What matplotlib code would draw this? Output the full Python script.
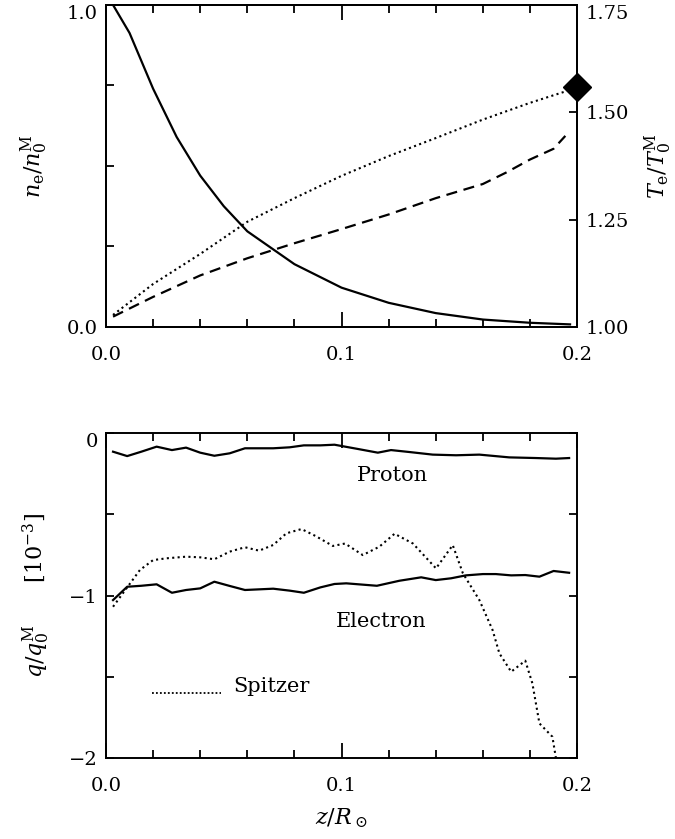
import numpy as np
import matplotlib
matplotlib.use('Agg')
import matplotlib.pyplot as plt
from matplotlib.ticker import FixedLocator, MultipleLocator

plt.rcParams['font.family'] = ['DejaVu Serif']
plt.rcParams['mathtext.fontset'] = 'dejavuserif'
plt.rcParams['axes.linewidth'] = 1.4

# top panel: density (left axis) and temperatures (right axis)
ne_z = [0.003, 0.01, 0.02, 0.03, 0.04, 0.05, 0.06, 0.08, 0.10, 0.12, 0.14, 0.16, 0.18, 0.197]
ne_val = [1.0, 0.913, 0.74, 0.59, 0.47, 0.375, 0.297, 0.195, 0.122, 0.075, 0.043, 0.023, 0.013, 0.008]

te_dot_z = [0.003, 0.02, 0.04, 0.06, 0.08, 0.10, 0.12, 0.14, 0.16, 0.18, 0.197]
te_dot = [1.028, 1.10, 1.17, 1.245, 1.30, 1.352, 1.398, 1.44, 1.483, 1.522, 1.552]

te_dash_z = [0.003, 0.02, 0.04, 0.06, 0.08, 0.10, 0.12, 0.14, 0.16, 0.17, 0.18, 0.19, 0.195]
te_dash = [1.024, 1.07, 1.12, 1.16, 1.195, 1.228, 1.262, 1.30, 1.333, 1.36, 1.39, 1.415, 1.445]

te_mark_z = [0.2]
te_mark = [1.559]

# bottom panel: heat fluxes
proton_z = [0.003, 0.009, 0.015, 0.0215, 0.028, 0.034, 0.040, 0.046, 0.0525, 0.059, 0.071, 0.078,
            0.084, 0.091, 0.097, 0.1076, 0.1154, 0.121, 0.1288, 0.1387, 0.1486, 0.1585, 0.1712,
            0.1825, 0.191, 0.1966]
proton_q = [-0.115, -0.142, -0.115, -0.084, -0.105, -0.090, -0.121, -0.140, -0.125, -0.094, -0.094,
            -0.088, -0.076, -0.076, -0.072, -0.10, -0.121, -0.105, -0.117, -0.133, -0.137, -0.133,
            -0.15, -0.154, -0.158, -0.154]

elec_z = [0.003, 0.009, 0.015, 0.0215, 0.028, 0.034, 0.040, 0.046, 0.0525, 0.059, 0.071, 0.078,
          0.084, 0.091, 0.097, 0.102, 0.115, 0.1246, 0.1338, 0.140, 0.1465, 0.1528, 0.160, 0.1655,
          0.172, 0.178, 0.184, 0.190, 0.1966]
elec_q = [-1.028, -0.946, -0.94, -0.931, -0.983, -0.966, -0.956, -0.915, -0.941, -0.966, -0.958,
          -0.97, -0.983, -0.95, -0.929, -0.925, -0.94, -0.909, -0.888, -0.905, -0.894, -0.876,
          -0.868, -0.868, -0.876, -0.874, -0.884, -0.849, -0.86]

sp_z = [0.003, 0.0144, 0.020, 0.0257, 0.034, 0.040, 0.046, 0.0525, 0.059, 0.065, 0.071, 0.0766,
        0.083, 0.089, 0.0963, 0.1015, 0.109, 0.116, 0.1225, 0.1303, 0.1401, 0.1472, 0.1515,
        0.1585, 0.1641, 0.167, 0.172, 0.178, 0.181, 0.184, 0.1895, 0.191]
sp_q = [-1.069, -0.843, -0.782, -0.771, -0.761, -0.765, -0.777, -0.730, -0.703, -0.724, -0.689,
        -0.617, -0.591, -0.634, -0.695, -0.68, -0.751, -0.70, -0.62, -0.68, -0.833, -0.69, -0.863,
        -1.028, -1.212, -1.356, -1.469, -1.401, -1.54, -1.787, -1.869, -2.0]

dotted = (0, (1, 1.6))
dashed = (0, (5, 3))
fs = 14

fig = plt.figure(figsize=(6.75, 8.39), dpi=100)
ax1 = fig.add_axes([0.157, 0.6103, 0.698, 0.3838])
ax2 = ax1.twinx()
ax3 = fig.add_axes([0.157, 0.0965, 0.698, 0.3874])

# ---- top ----
ax1.plot(ne_z, ne_val, color='black', lw=1.6)
ax2.plot(te_dot_z, te_dot, color='black', lw=1.5, linestyle=dotted)
ax2.plot(te_dash_z, te_dash, color='black', lw=1.6, linestyle=dashed)
ax2.plot(te_mark_z, te_mark, marker='D', ms=14, color='black', linestyle='none', clip_on=False, zorder=5)

ax1.set_xlim(0, 0.2)
ax1.set_ylim(0, 1)
ax2.set_ylim(1.0, 1.75)
ax1.yaxis.set_major_locator(FixedLocator([0, 0.25, 0.5, 0.75, 1.0]))
ax1.set_yticklabels(['0.0', '', '', '', '1.0'])
ax2.yaxis.set_major_locator(FixedLocator([1.0, 1.25, 1.5, 1.75]))
ax2.set_yticklabels(['1.00', '1.25', '1.50', '1.75'])
ax1.set_ylabel(r'$n_{\rm e}/n_0^{\rm M}$', fontsize=fs + 2, labelpad=12)
ax2.set_ylabel(r'$T_{\rm e}/T_0^{\rm M}$', fontsize=fs + 2, labelpad=10)

# ---- bottom ----
ax3.plot(proton_z, proton_q, color='black', lw=1.6)
ax3.plot(elec_z, elec_q, color='black', lw=1.6)
ax3.plot(sp_z, sp_q, color='black', lw=1.5, linestyle=dotted)
ax3.set_xlim(0, 0.2)
ax3.set_ylim(-2, 0)
ax3.yaxis.set_major_locator(FixedLocator([-2, -1.5, -1, -0.5, 0]))
ax3.set_yticklabels(['\u22122', '', '\u22121', '', '0'])
ax3.set_ylabel(r'$q/q_0^{\rm M}\quad\ \ \ [10^{-3}]$', fontsize=fs + 2, labelpad=12)
ax3.set_xlabel(r'$z/R_\odot$', fontsize=fs + 2, labelpad=8)

ax3.text(0.1216, -0.26, 'Proton', fontsize=fs + 1, ha='center', va='center')
ax3.text(0.117, -1.16, 'Electron', fontsize=fs + 1, ha='center', va='center')
ax3.plot([0.0194, 0.049], [-1.60, -1.60], color='black', lw=1.3, linestyle=(0, (1, 1.2)))
ax3.text(0.054, -1.56, 'Spitzer', fontsize=fs + 1, ha='left', va='center')

for ax in (ax1, ax3):
    ax.xaxis.set_major_locator(FixedLocator([0.0, 0.1, 0.2]))
    ax.xaxis.set_minor_locator(MultipleLocator(0.02))
    ax.set_xticklabels(['0.0', '0.1', '0.2'])

for ax in (ax1, ax2, ax3):
    ax.tick_params(which='major', axis='x', direction='in', length=11, width=1.3, top=True,
                   labelsize=fs, pad=14)
    ax.tick_params(which='minor', axis='x', direction='in', length=5.5, width=1.3, top=True)
    ax.tick_params(axis='y', direction='in', length=6, width=1.3, labelsize=fs, pad=6)

ax3.tick_params(axis='y', right=True)
ax1.tick_params(axis='y', right=False)

# top-most tick labels hang below their tick, as in the original
for ax in (ax1, ax2, ax3):
    top_tick = ax.yaxis.get_major_ticks()[-1]
    top_tick.label1.set_verticalalignment('top')
    top_tick.label2.set_verticalalignment('top')

plt.savefig('out.png', dpi=100)
